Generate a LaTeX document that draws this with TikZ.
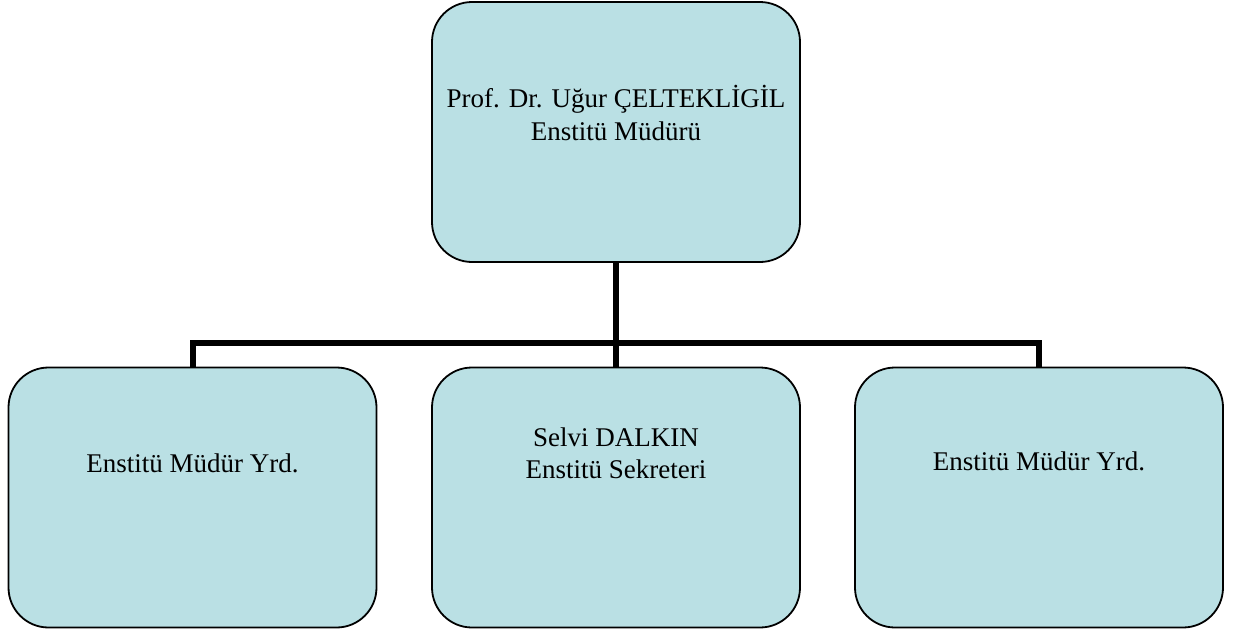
\documentclass[tikz,border=0pt]{standalone}
\usepackage{fontspec}
\setmainfont{Liberation Serif}
\definecolor{boxfill}{RGB}{186,224,228}
\begin{document}
\begin{tikzpicture}[x=1pt,y=-1pt,
  orgbox/.style={draw=black, line width=1.8pt, fill=boxfill, rounded corners=40pt,
    minimum width=368pt, minimum height=260pt, inner sep=0pt},
  txt/.style={font=\fontsize{27}{33}\selectfont, align=center, inner sep=0pt, anchor=base},
  conn/.style={draw=black, line width=6pt}]
\useasboundingbox (0,0) rectangle (1237,635);
\node[orgbox] (T) at (616,132) {};
\node[orgbox] (L) at (192.5,497.5) {};
\node[orgbox] (M) at (616,497.5) {};
\node[orgbox] (R) at (1039,497.5) {};
\coordinate (J) at (616,343);
\draw[conn] (L.north) |- (J) -| (R.north);
\draw[conn] (T.south) -- (M.north);
\node[txt] (t1) at (616,107) {Prof. Dr. Uğur ÇELTEKLİGİL};
\node[txt] (t2) at (616,140) {Enstitü Müdürü};
\node[txt] (l1) at (192.5,472) {Enstitü Müdür Yrd.};
\node[txt] (m1) at (616,446) {Selvi DALKIN};
\node[txt] (m2) at (616,478) {Enstitü Sekreteri};
\node[txt] (r1) at (1039,470) {Enstitü Müdür Yrd.};
\end{tikzpicture}
\end{document}
